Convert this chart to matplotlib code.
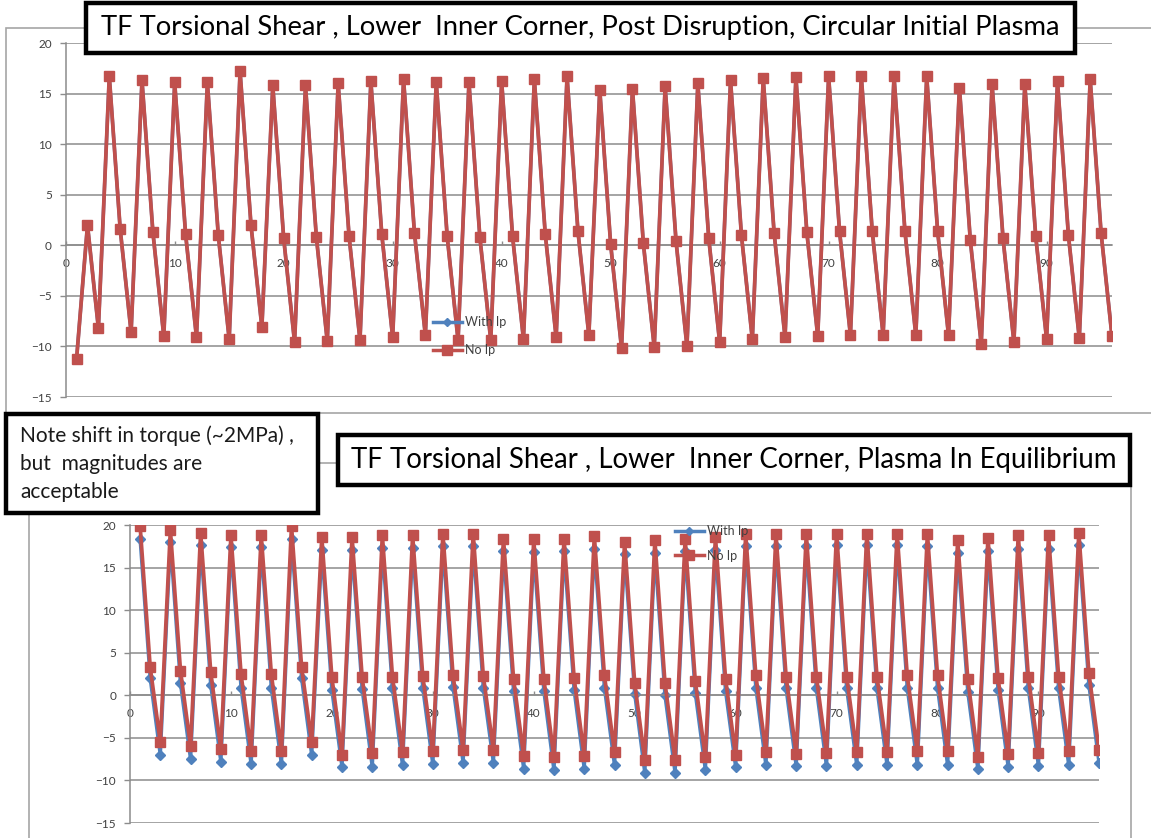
import numpy as np
import matplotlib
matplotlib.use("Agg")
import matplotlib.pyplot as plt
from matplotlib.patches import Rectangle
from matplotlib.lines import Line2D

# ---------------------------------------------------------------- data
steps = np.arange(1, 97)

top_no_ip = [
    -11.2, 2.0, -8.2,
    16.7, 1.6, -8.6,   16.3, 1.3, -9.0,   16.1, 1.1, -9.1,   16.1, 1.0, -9.3,
    17.2, 2.0, -8.1,   15.8, 0.7, -9.6,   15.8, 0.8, -9.5,   16.0, 0.9, -9.4,
    16.2, 1.1, -9.1,   16.4, 1.2, -8.9,   16.1, 0.9, -9.4,   16.1, 0.8, -9.4,
    16.2, 0.9, -9.3,   16.4, 1.1, -9.1,   16.7, 1.4, -8.9,   15.4, 0.1, -10.2,
    15.5, 0.2, -10.1,  15.7, 0.4, -10.0,  16.0, 0.7, -9.6,   16.3, 1.0, -9.3,
    16.5, 1.2, -9.1,   16.6, 1.3, -9.0,   16.7, 1.4, -8.9,   16.7, 1.4, -8.9,
    16.7, 1.4, -8.9,   16.7, 1.4, -8.9,   15.6, 0.5, -9.8,   15.9, 0.7, -9.6,
    15.9, 0.9, -9.3,   16.2, 1.0, -9.2,   16.4, 1.2, -9.0,
]
# with and without plasma current coincide for this case
top_with_ip = list(top_no_ip)

bot_no_ip = [
    19.9, 3.3, -5.5,   19.4, 2.9, -6.0,   19.1, 2.7, -6.3,   18.8, 2.5, -6.6,
    18.8, 2.5, -6.6,   19.9, 3.3, -5.5,   18.6, 2.1, -7.0,   18.6, 2.1, -6.8,
    18.8, 2.2, -6.7,   18.8, 2.3, -6.6,   19.0, 2.4, -6.4,   19.0, 2.3, -6.4,
    18.4, 1.9, -7.1,   18.3, 1.9, -7.3,   18.4, 2.0, -7.1,   18.7, 2.35, -6.7,
    18.0, 1.45, -7.6,  18.2, 1.45, -7.6,  18.4, 1.7, -7.3,   18.6, 1.95, -7.05,
    18.9, 2.35, -6.7,  18.9, 2.2, -6.9,   18.9, 2.2, -6.8,   19.0, 2.2, -6.7,
    19.0, 2.2, -6.7,   19.0, 2.35, -6.6,  19.0, 2.35, -6.6,  18.2, 1.9, -7.2,
    18.5, 2.0, -6.9,   18.8, 2.2, -6.8,   18.8, 2.2, -6.6,   19.1, 2.6, -6.4,
]
bot_with_ip = [
    18.4, 2.0, -7.0,   18.0, 1.4, -7.5,   17.6, 1.2, -7.8,   17.4, 0.9, -8.1,
    17.4, 0.9, -8.1,   18.4, 2.0, -7.0,   17.1, 0.6, -8.4,   17.1, 0.7, -8.4,
    17.3, 0.8, -8.2,   17.3, 0.9, -8.1,   17.5, 1.0, -7.9,   17.5, 0.9, -7.9,
    16.9, 0.5, -8.6,   16.8, 0.5, -8.8,   16.9, 0.6, -8.6,   17.2, 0.9, -8.2,
    16.6, 0.2, -9.1,   16.7, 0.0, -9.1,   17.0, 0.3, -8.75,  17.1, 0.5, -8.4,
    17.5, 0.9, -8.2,   17.5, 0.8, -8.3,   17.5, 0.8, -8.3,   17.6, 0.8, -8.2,
    17.6, 0.8, -8.2,   17.6, 0.9, -8.2,   17.5, 0.9, -8.2,   16.7, 0.4, -8.7,
    17.0, 0.6, -8.4,   17.2, 0.8, -8.3,   17.2, 0.8, -8.2,   17.6, 1.2, -7.9,
]

series_labels = ["With Ip", "No Ip"]
title_top = "TF Torsional Shear , Lower  Inner Corner, Post Disruption, Circular Initial Plasma"
title_bot = "TF Torsional Shear , Lower  Inner Corner, Plasma In Equilibrium"
note_lines = ["Note shift in torque (~2MPa) ,", "but  magnitudes are", "acceptable"]

y_ticks = np.arange(-15, 21, 5)
x_ticks = np.arange(0, 91, 10)

# ---------------------------------------------------------------- style
BLUE = "#4F81BD"
RED = "#C0504D"
GRID = "#8c8c8c"
plt.rcParams['font.family'] = ['Lato', 'DejaVu Sans']

W, H = 1151, 838
fig = plt.figure(figsize=(W / 100, H / 100), dpi=100)
fig.patch.set_facecolor("white")


def px_rect(x0, y0, x1, y1):
    """Pixel box (origin top-left) -> figure fraction rect."""
    return [x0 / W, 1 - y1 / H, (x1 - x0) / W, (y1 - y0) / H]


def frame(x0, y0, x1, y1, lw=1.2, ec="#a6a6a6", fc="none", z=0.5):
    r = Rectangle((x0 / W, 1 - y1 / H), (x1 - x0) / W, (y1 - y0) / H,
                  transform=fig.transFigure, lw=lw, ec=ec, fc=fc, zorder=z)
    fig.add_artist(r)
    return r


def style_axes(ax):
    ax.set_xlim(0, 96)
    ax.set_ylim(-15, 20)
    ax.set_yticks(y_ticks)
    ax.set_xticks(x_ticks)
    ax.set_facecolor("none")
    ax.grid(axis="y", color=GRID, lw=1.1)
    ax.set_axisbelow(True)
    for s in ("top", "right"):
        ax.spines[s].set_visible(False)
    ax.spines["left"].set_color(GRID)
    ax.spines["left"].set_linewidth(1.1)
    ax.spines["bottom"].set_position(("data", 0))
    ax.spines["bottom"].set_color(GRID)
    ax.spines["bottom"].set_linewidth(1.1)
    ax.tick_params(axis="y", length=4, width=1, color=GRID, labelsize=8.5,
                   labelcolor="#404040", pad=6)
    ax.tick_params(axis="x", direction="in", length=3, width=1, color=GRID,
                   labelsize=8.5, labelcolor="#404040", pad=9)


def legend_at(ax, x_px, y_px, spacing):
    handles = [
        Line2D([], [], color=BLUE, lw=2.5, marker="D", ms=4, mfc=BLUE, mec=BLUE),
        Line2D([], [], color=RED, lw=2.5, marker="s", ms=6.5, mfc=RED, mec=RED),
    ]
    ax.legend(handles, series_labels, loc="upper left",
              bbox_to_anchor=(x_px / W, 1 - y_px / H), bbox_transform=fig.transFigure,
              frameon=False, fontsize=9, handlelength=2.3, handletextpad=0.25,
              borderpad=0, borderaxespad=0, labelspacing=spacing,
              labelcolor="#404040")


def boxed_text(x0, y0, x1, y1, text, target_w, lw=3.2):
    frame(x0, y0, x1, y1, lw=lw, ec="black", fc="white", z=5)
    t = fig.text((x0 + x1) / 2 / W, 1 - (y0 + y1) / 2 / H, text, ha="center",
                 va="center", fontsize=18, color="black", zorder=6)
    r = fig.canvas.get_renderer()
    w = t.get_window_extent(renderer=r).width
    t.set_fontsize(18 * target_w / w)
    return t


# ---------------------------------------------------------------- frames
frame(6, 28, 1165, 413)
frame(29, 463, 1131, 850)

# ---------------------------------------------------------------- top chart
ax1 = fig.add_axes(px_rect(65.7, 43, 1112, 397))
style_axes(ax1)
ax1.plot(steps, top_with_ip, color=BLUE, lw=2.5, marker="D", ms=5, zorder=2)
ax1.plot(steps, top_no_ip, color=RED, lw=2.7, marker="s", ms=7, mfc=RED, mec=RED,
         zorder=3)
legend_at(ax1, 433, 316, 1.3)

# ---------------------------------------------------------------- bottom chart
ax2 = fig.add_axes(px_rect(130, 525, 1099, 823))
style_axes(ax2)
ax2.plot(steps, bot_with_ip, color=BLUE, lw=2.5, marker="D", ms=5.5, mfc=BLUE,
         mec=BLUE, zorder=2)
ax2.plot(steps, bot_no_ip, color=RED, lw=2.7, marker="s", ms=7, mfc=RED, mec=RED,
         zorder=3)
legend_at(ax2, 675, 525, 1.0)

# ---------------------------------------------------------------- annotations
boxed_text(86, 3, 1075, 53, title_top, 958)
boxed_text(338, 435, 1130, 485, title_bot, 765)

frame(6, 414, 318, 513, lw=3.2, ec="black", fc="white", z=5)
for i, line in enumerate(note_lines):
    fig.text(20 / W, 1 - (442 + 28 * i) / H, line, ha="left", va="baseline",
             fontsize=15, color="#1a1a1a", zorder=6)

fig.savefig("out.png", dpi=100)
